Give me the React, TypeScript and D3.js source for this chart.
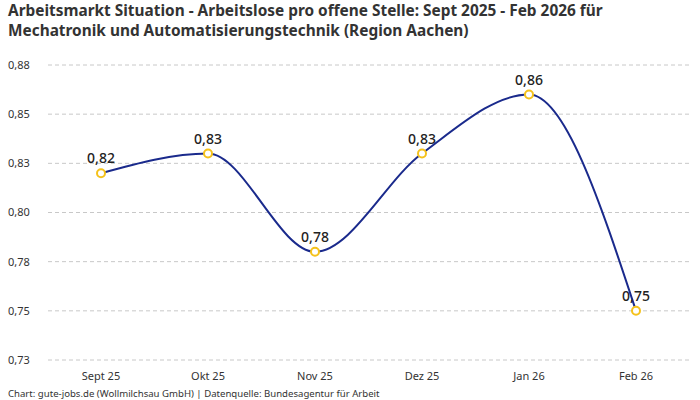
import React, { useEffect, useRef } from 'react';
import * as d3 from 'd3';

const months = ['Sept 25', 'Okt 25', 'Nov 25', 'Dez 25', 'Jan 26', 'Feb 26'];
const ratios = [0.82, 0.83, 0.78, 0.83, 0.86, 0.75];
const yTicks = [0.725, 0.75, 0.775, 0.8, 0.825, 0.85, 0.875];
const titleLines = [
  'Arbeitsmarkt Situation - Arbeitslose pro offene Stelle: Sept 2025 - Feb 2026 für',
  'Mechatronik und Automatisierungstechnik (Region Aachen)',
];
const footer = 'Chart: gute-jobs.de (Wollmilchsau GmbH) | Datenquelle: Bundesagentur für Arbeit';

const App: React.FC = () => {
  const ref = useRef<SVGSVGElement | null>(null);

  useEffect(() => {
    const width = 700;
    const height = 400;
    const font = '"Noto Sans", Roboto, sans-serif';
    const fmt = (v: number) => (v + 1e-9).toFixed(2).replace('.', ',');

    const svg = d3.select(ref.current);
    svg.selectAll('*').remove();
    svg.attr('width', width).attr('height', height).style('display', 'block');

    svg.append('rect').attr('width', width).attr('height', height).attr('fill', 'white');

    titleLines.forEach((t, i) => {
      svg.append('text')
        .attr('x', 8)
        .attr('y', 16 + i * 20)
        .style('font-family', font)
        .style('font-size', '15.4px')
        .style('font-weight', 'bold')
        .style('fill', '#333')
        .text(t);
    });

    const x = d3.scalePoint<string>()
      .domain(months)
      .range([47.5, 689.5])
      .padding(0.5);

    const y = d3.scaleLinear()
      .domain([0.725, 0.875])
      .range([360, 65]);

    // grid + y labels
    yTicks.forEach(t => {
      svg.append('line')
        .attr('x1', 48)
        .attr('x2', 690)
        .attr('y1', y(t))
        .attr('y2', y(t))
        .attr('stroke', '#c8c8c8')
        .attr('stroke-width', 1)
        .attr('stroke-dasharray', '4,3');

      svg.append('text')
        .attr('x', 8)
        .attr('y', y(t))
        .attr('dy', '0.35em')
        .style('font-family', font)
        .style('font-size', '11px')
        .style('fill', '#333')
        .text(fmt(t));
    });

    months.forEach(m => {
      svg.append('text')
        .attr('x', x(m)!)
        .attr('y', 380)
        .attr('text-anchor', 'middle')
        .style('font-family', font)
        .style('font-size', '11px')
        .style('fill', '#333')
        .text(m);
    });

    const line = d3.line<number>()
      .x((_, i) => x(months[i])!)
      .y(d => y(d))
      .curve(d3.curveMonotoneX);

    svg.append('path')
      .datum(ratios)
      .attr('d', line)
      .attr('fill', 'none')
      .attr('stroke', '#1a2a8c')
      .attr('stroke-width', 2);

    ratios.forEach((v, i) => {
      svg.append('circle')
        .attr('cx', x(months[i])!)
        .attr('cy', y(v))
        .attr('r', 4)
        .attr('fill', 'white')
        .attr('stroke', '#f5c21b')
        .attr('stroke-width', 2);

      svg.append('text')
        .attr('x', x(months[i])!)
        .attr('y', y(v) - 10)
        .attr('text-anchor', 'middle')
        .style('font-family', font)
        .style('font-size', '14px')
        .style('font-weight', 500)
        .style('fill', '#222')
        .text(fmt(v));
    });

    svg.append('text')
      .attr('x', 8)
      .attr('y', 397)
      .style('font-family', font)
      .style('font-size', '9.6px')
      .style('fill', '#333')
      .text(footer);
  }, []);

  return (
    <div style={{ position: 'absolute', left: 0, top: 0 }}>
      <svg ref={ref}></svg>
    </div>
  );
};

export default App;
